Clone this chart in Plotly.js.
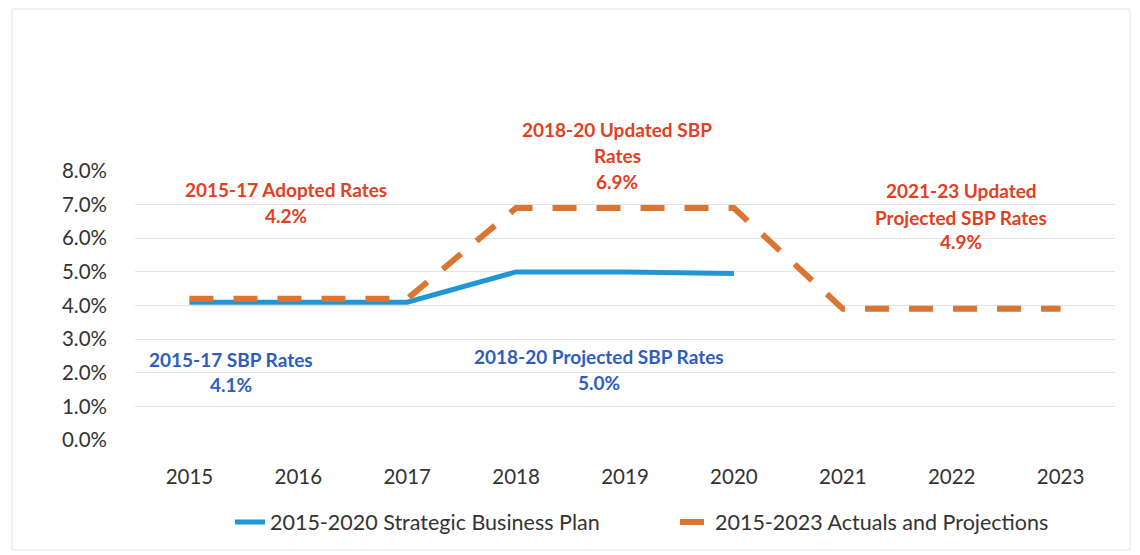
<!DOCTYPE html>
<html><head><meta charset="utf-8">
<script src="https://cdn.plot.ly/plotly-3.0.1.min.js"></script>
<style>html,body{margin:0;padding:0;background:#fff}#chart{width:1140px;height:555px}</style>
</head><body><div id="chart"></div>
<script>
const years = [2015, 2016, 2017, 2018, 2019, 2020, 2021, 2022, 2023];
const sbpYears = [2015, 2016, 2017, 2018, 2019, 2020];
const sbpRates = [4.1, 4.1, 4.1, 5.0, 5.0, 4.95];
const actualRates = [4.2, 4.2, 4.2, 6.9, 6.9, 6.9, 3.9, 3.9, 3.9];
const yTicks = [0, 1, 2, 3, 4, 5, 6, 7, 8];
const yTickText = ['0.0%', '1.0%', '2.0%', '3.0%', '4.0%', '5.0%', '6.0%', '7.0%', '8.0%'];
const seriesNames = ['2015-2020 Strategic Business Plan', '2015-2023 Actuals and Projections'];

// label blocks: x (year position), line heights (in % units of the y scale), text lines, colour group
const labelX = [2015.89, 2015.385, 2018.93, 2022.09, 2018.76];
const labelY = [[7.46, 6.69], [2.38, 1.64], [9.22, 8.45, 7.70], [7.41, 6.63, 5.89], [2.47, 1.70]];
const labelLines = [
  ['2015-17 Adopted Rates', '4.2%'],
  ['2015-17 SBP Rates', '4.1%'],
  ['2018-20 Updated SBP', 'Rates', '6.9%'],
  ['2021-23 Updated', 'Projected SBP Rates', '4.9%'],
  ['2018-20 Projected SBP Rates', '5.0%']
];
const labelGroup = ['red', 'blue', 'red', 'red', 'blue'];

const yMax = 8;
const textColors = {red: '#E2401E', blue: '#2D5DBE'};
const annotations = [];
labelLines.forEach((lines, i) => {
  lines.forEach((t, j) => {
    annotations.push({
      x: labelX[i], y: labelY[i][j] / yMax, xref: 'x', yref: 'paper',
      text: '<b>' + t + '</b>', showarrow: false,
      xanchor: 'center', yanchor: 'middle',
      font: {family: 'Lato, "Open Sans", sans-serif', size: 19, color: textColors[labelGroup[i]]}
    });
  });
});

const traces = [
  {x: sbpYears, y: sbpRates, type: 'scatter', mode: 'lines', name: seriesNames[0],
   line: {color: '#2196D6', width: 5}},
  {x: years, y: actualRates, type: 'scatter', mode: 'lines', name: seriesNames[1],
   line: {color: '#DB7632', width: 6, dash: '24px,20px'}}
];

const layout = {
  width: 1140, height: 555,
  margin: {l: 135, r: 25, t: 171, b: 115},
  paper_bgcolor: '#ffffff', plot_bgcolor: '#ffffff',
  font: {family: 'Lato, "Open Sans", sans-serif', color: '#404040'},
  showlegend: true,
  legend: {orientation: 'h', x: 0.551, xanchor: 'center', y: -0.305, yanchor: 'middle',
           font: {size: 21.5, color: '#333333'}, tracegroupgap: 0,
           entrywidth: 400, entrywidthmode: 'pixels'},
  xaxis: {range: [2014.5, 2023.5], tickvals: years, ticktext: years.map(String),
          showgrid: false, zeroline: false, showline: false, ticks: '',
          ticklabelstandoff: 22, tickfont: {size: 20.5, color: '#333333'}, fixedrange: true},
  yaxis: {range: [0, yMax], tickvals: yTicks, ticktext: yTickText,
          showgrid: true, gridcolor: '#e3e3e3', gridwidth: 1, zeroline: false, showline: false,
          ticks: '', ticklabelstandoff: 27, tickfont: {size: 20.5, color: '#333333'}, fixedrange: true},
  annotations: annotations,
  shapes: [{type: 'rect', xref: 'paper', yref: 'paper',
            x0: -123 / 980, x1: 1 + 15 / 980, y0: -110 / 269, y1: 1 + 162 / 269,
            line: {color: '#e2e2e2', width: 1}, fillcolor: 'rgba(0,0,0,0)', layer: 'below'}]
};

Plotly.newPlot('chart', traces, layout, {displayModeBar: false, staticPlot: true});
</script></body></html>
